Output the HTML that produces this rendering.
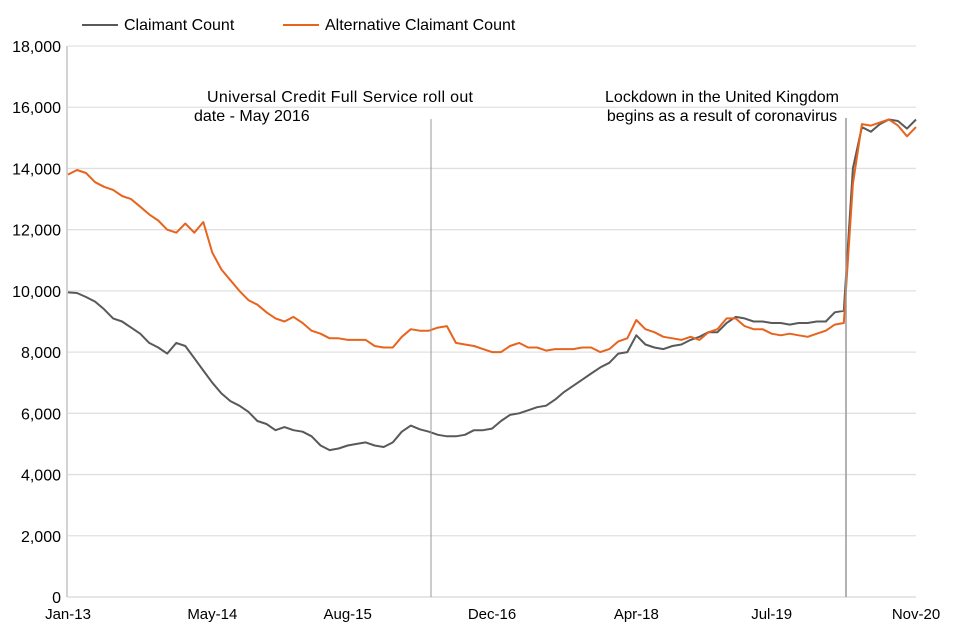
<!DOCTYPE html>
<html><head><meta charset="utf-8"><style>
body{margin:0;background:#fff}
svg{display:block;font-family:"Liberation Sans",Arial,sans-serif}
</style></head><body>
<svg width="960" height="640" viewBox="0 0 960 640">
<g id="grid"></g><g id="axes"></g><g id="series"></g>
<g>
<line x1="82" y1="25" x2="118" y2="25" stroke="#595959" stroke-width="2"/>
<text x="124" y="30" font-size="16" fill="#000">Claimant Count</text>
<line x1="283" y1="25" x2="319" y2="25" stroke="#e8641e" stroke-width="2"/>
<text x="325" y="30" font-size="16" fill="#000">Alternative Claimant Count</text>
</g>
<g>
<line x1="431" y1="119" x2="431" y2="597" stroke="#999" stroke-width="1"/>
<text x="207" y="102" font-size="16" textLength="266" lengthAdjust="spacing">Universal Credit Full Service roll out</text>
<text x="194" y="121" font-size="16">date - May 2016</text>
</g>
<g>
<line x1="846" y1="118" x2="846" y2="597" stroke="#999" stroke-width="1.5"/>
<text x="722" y="102" font-size="16" text-anchor="middle">Lockdown in the United Kingdom</text>
<text x="722" y="121" font-size="16" text-anchor="middle">begins as a result of coronavirus</text>
</g>
</svg>
<script>
const yTicks=[0,2000,4000,6000,8000,10000,12000,14000,16000,18000];
const xLabels=["Jan-13","May-14","Aug-15","Dec-16","Apr-18","Jul-19","Nov-20"];
const xLabelMonths=[0,16,31,47,63,78,94];
const claimant=[9950,9930,9800,9650,9400,9100,9000,8800,8600,8300,8150,7950,8300,8200,7800,7400,7000,6650,6400,6250,6050,5750,5650,5450,5550,5450,5400,5250,4950,4800,4850,4950,5000,5050,4950,4900,5050,5400,5600,5480,5400,5300,5250,5250,5300,5450,5450,5500,5750,5950,6000,6100,6200,6250,6450,6700,6900,7100,7300,7500,7650,7950,8000,8550,8250,8150,8100,8200,8250,8400,8500,8650,8650,8950,9150,9100,9000,9000,8950,8950,8900,8950,8950,9000,9000,9300,9350,14000,15350,15200,15450,15600,15550,15300,15600];
const alternative=[13800,13950,13850,13550,13400,13300,13100,13000,12750,12500,12300,12000,11900,12200,11900,12250,11250,10700,10350,10000,9700,9550,9300,9100,9000,9150,8950,8700,8600,8450,8450,8400,8400,8400,8200,8150,8150,8500,8750,8700,8700,8800,8850,8300,8250,8200,8100,8000,8000,8200,8300,8150,8150,8050,8100,8100,8100,8150,8150,8000,8100,8350,8450,9050,8750,8650,8500,8450,8400,8500,8400,8650,8750,9100,9100,8850,8750,8750,8600,8550,8600,8550,8500,8600,8700,8900,8950,13500,15450,15400,15500,15600,15400,15050,15350];
const NS='http://www.w3.org/2000/svg';
const X0=68,X1=916,Y0=597,Y1=46,NM=94,YMAX=18000;
function xs(i){return X0+(X1-X0)*i/NM;}
function ys(v){return Y0-(Y0-Y1)*v/YMAX;}
const grid=document.getElementById('grid'),axes=document.getElementById('axes'),ser=document.getElementById('series');
yTicks.forEach(t=>{
  if(t>0){const l=document.createElementNS(NS,'line');
  
  
  l.setAttribute('x1',X0);l.setAttribute('x2',X1);l.setAttribute('y1',ys(t));l.setAttribute('y2',ys(t));
  l.setAttribute('stroke','#e0e0e0');l.setAttribute('stroke-width','1.3');grid.appendChild(l);}
  const tx=document.createElementNS(NS,'text');
  
  
  tx.setAttribute('x',61);tx.setAttribute('y',ys(t)+6);tx.setAttribute('text-anchor','end');tx.setAttribute('font-size','16');
  tx.textContent=t.toLocaleString('en-GB');axes.appendChild(tx);
});
const ax=document.createElementNS(NS,'line');


ax.setAttribute('x1',X0-1);ax.setAttribute('x2',X0-1);ax.setAttribute('y1',Y1);ax.setAttribute('y2',Y0);ax.setAttribute('stroke','#bbb');ax.setAttribute('stroke-width','1.3');axes.appendChild(ax);
const bx=document.createElementNS(NS,'line');


bx.setAttribute('x1',X0-1);bx.setAttribute('x2',X1);bx.setAttribute('y1',Y0);bx.setAttribute('y2',Y0);bx.setAttribute('stroke','#ccc');axes.appendChild(bx);
xLabels.forEach((s,k)=>{
  const tx=document.createElementNS(NS,'text');
  
  
  tx.setAttribute('x',xs(xLabelMonths[k]));tx.setAttribute('y',619);tx.setAttribute('text-anchor','middle');tx.setAttribute('font-size','15');
  tx.textContent=s;axes.appendChild(tx);
});
function line(arr,color,name){
  const p=document.createElementNS(NS,'polyline');
  
  
  p.setAttribute('points',arr.map((v,i)=>xs(i).toFixed(1)+','+ys(v).toFixed(1)).join(' '));
  p.setAttribute('fill','none');p.setAttribute('stroke',color);p.setAttribute('stroke-width','2');p.setAttribute('stroke-linejoin','round');
  ser.appendChild(p);
}
line(claimant,'#595959','claimant-count-line');
line(alternative,'#e8641e','alternative-claimant-count-line');
</script>
</body></html>
